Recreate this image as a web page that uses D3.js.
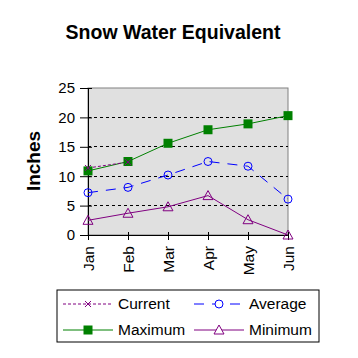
<!DOCTYPE html>
<html><head><meta charset="utf-8">
<script src="https://cdn.jsdelivr.net/npm/d3@7"></script>
<style>body{margin:0;background:#fff}svg{display:block;font-family:Arial,"Liberation Sans",sans-serif}</style>
</head><body><svg id="c" width="358" height="358"></svg>
<script>
const months = ["Jan","Feb","Mar","Apr","May","Jun"];
const current = [11.4, 12.4, null, null, null, null];
const average = [7.2, 8.1, 10.2, 12.5, 11.7, 6.1];
const maximum = [10.9, 12.5, 15.6, 17.9, 18.9, 20.3];
const minimum = [2.5, 3.7, 4.8, 6.7, 2.6, 0];
const yTicks = [0, 5, 10, 15, 20, 25];

const svg = d3.select("#c");
const L = 88, R = 288, T = 88, B = 235;
const x = d3.scalePoint().domain(months).range([L, R]);
const y = d3.scaleLinear().domain([0, 25]).range([B, T]);

svg.append("rect").attr("x", L).attr("y", T).attr("width", R - L).attr("height", B - T)
  .attr("fill", "#e0e0e0").attr("stroke", "#808080");

svg.append("g").selectAll("line").data(yTicks.filter(d => d > 0 && d < 25)).join("line")
  .attr("x1", L).attr("x2", R).attr("y1", d => y(d)).attr("y2", d => y(d))
  .attr("stroke", "#000").attr("stroke-dasharray", "3,3").attr("shape-rendering", "crispEdges");

const ya = svg.append("g").attr("transform", `translate(${L},0)`)
  .call(d3.axisLeft(y).tickValues(yTicks).tickSize(8).tickPadding(5).tickSizeOuter(0));
ya.select(".domain").attr("stroke", "#000");
ya.selectAll(".tick line").attr("x1", 4).attr("stroke", "#000");
ya.selectAll("text").attr("font-size", 15).attr("fill", "#000").attr("font-family", "Arial,'Liberation Sans',sans-serif");

const xa = svg.append("g").attr("transform", `translate(0,${B})`)
  .call(d3.axisBottom(x).tickSize(5).tickSizeOuter(0));
xa.select(".domain").attr("stroke", "#000");
xa.selectAll(".tick line").attr("y1", -3).attr("stroke", "#000");
xa.selectAll("text").attr("font-size", 15.5).attr("fill", "#000").attr("font-family", "Arial,'Liberation Sans',sans-serif")
  .attr("transform", "rotate(-90)").attr("text-anchor", "end").attr("dx", "-11").attr("dy", "0.34em").attr("x", 0).attr("y", 0);

const line = d3.line().defined(d => d != null).x((d, i) => x(months[i])).y(d => y(d));

function series(data, color, dash) {
  svg.append("path").datum(data).attr("d", line).attr("fill", "none")
    .attr("stroke", color).attr("stroke-width", 1).attr("stroke-dasharray", dash || null);
}
series(maximum, "#008000");
series(minimum, "#800080");
series(average, "#0000ff", "10,8");
series(current, "#800080", "3,2");

// markers
svg.append("g").selectAll("rect").data(maximum).join("rect")
  .attr("x", (d, i) => x(months[i]) - 4.5).attr("y", d => y(d) - 4.5).attr("width", 9).attr("height", 9).attr("fill", "#008000");
svg.append("g").selectAll("circle").data(average).join("circle")
  .attr("cx", (d, i) => x(months[i])).attr("cy", d => y(d)).attr("r", 4).attr("fill", "none").attr("stroke", "#0000ff");
const tri = (cx, cy) => `M${cx},${cy - 5}L${cx + 5},${cy + 4}L${cx - 5},${cy + 4}Z`;
svg.append("g").selectAll("path").data(minimum).join("path")
  .attr("d", (d, i) => tri(x(months[i]), y(d))).attr("fill", "none").attr("stroke", "#800080");
const xm = (cx, cy) => `M${cx - 3},${cy - 3}L${cx + 3},${cy + 3}M${cx - 3},${cy + 3}L${cx + 3},${cy - 3}`;
svg.append("g").selectAll("path").data(current.map((d, i) => [d, i]).filter(p => p[0] != null)).join("path")
  .attr("d", p => xm(x(months[p[1]]), y(p[0]))).attr("stroke", "#800080");

// title
svg.append("text").attr("x", 173).attr("y", 39).attr("text-anchor", "middle")
  .attr("font-size", 19.5).attr("font-weight", "bold").text("Snow Water Equivalent");
svg.append("text").attr("transform", "translate(40,161) rotate(-90)").attr("text-anchor", "middle")
  .attr("font-size", 19).attr("font-weight", "bold").text("Inches");

// legend
const lg = svg.append("g");
lg.append("rect").attr("x", 57).attr("y", 290).attr("width", 262).attr("height", 52)
  .attr("fill", "#fff").attr("stroke", "#000");
const items = [
  {name: "Current", color: "#800080", dash: "3,2", mk: "x", cx: 63, cy: 304},
  {name: "Average", color: "#0000ff", dash: "10,8", mk: "o", cx: 194, cy: 304},
  {name: "Maximum", color: "#008000", dash: null, mk: "s", cx: 63, cy: 330},
  {name: "Minimum", color: "#800080", dash: null, mk: "t", cx: 194, cy: 330}
];
items.forEach(it => {
  lg.append("line").attr("x1", it.cx).attr("x2", it.cx + 50).attr("y1", it.cy).attr("y2", it.cy)
    .attr("stroke", it.color).attr("stroke-dasharray", it.dash);
  const mx = it.cx + 25;
  if (it.mk === "x") lg.append("path").attr("d", xm(mx, it.cy)).attr("stroke", it.color);
  if (it.mk === "o") lg.append("circle").attr("cx", mx).attr("cy", it.cy).attr("r", 4).attr("fill", "#fff").attr("stroke", it.color);
  if (it.mk === "s") lg.append("rect").attr("x", mx - 4.5).attr("y", it.cy - 4.5).attr("width", 9).attr("height", 9).attr("fill", it.color);
  if (it.mk === "t") lg.append("path").attr("d", tri(mx, it.cy)).attr("fill", "#fff").attr("stroke", it.color);
  lg.append("text").attr("x", it.cx + 55).attr("y", it.cy).attr("dy", "0.35em").attr("font-size", 15.5).text(it.name);
});
</script></body></html>
